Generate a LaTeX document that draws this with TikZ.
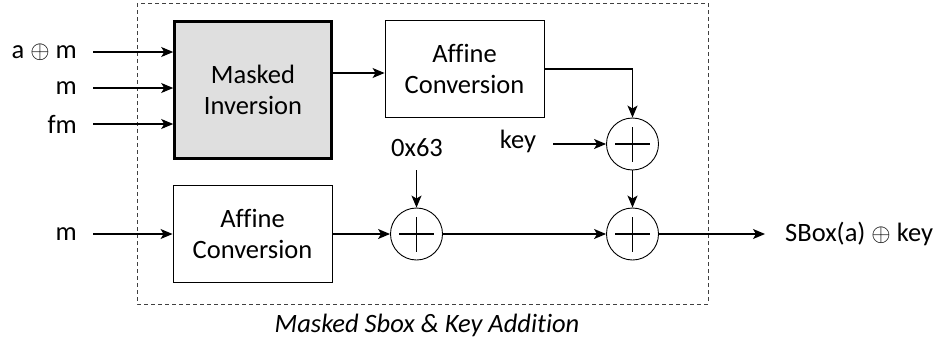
\documentclass[tikz,border=0pt]{standalone}
\usepackage{fontspec}
\setmainfont[Ligatures=NoCommon]{Carlito}
\usetikzlibrary{arrows.meta,calc}
\tikzset{
  blockbox/.style={draw, line width=0.9pt, minimum width=159pt, minimum height=97pt, align=center, inner sep=0pt},
  invbox/.style={blockbox, line width=2.6pt, minimum width=157pt, minimum height=137pt, fill=gray!25},
  xorop/.style={draw, circle, line width=0.9pt, minimum size=52pt, inner sep=0pt,
    path picture={\draw[line width=1.3pt] ([xshift=-17.5pt]path picture bounding box.center) -- ([xshift=17.5pt]path picture bounding box.center)
      ([yshift=-17.5pt]path picture bounding box.center) -- ([yshift=17.5pt]path picture bounding box.center);}},
  flow/.style={line width=1.2pt, -{Stealth[length=12pt, width=10pt, inset=3pt]}},
  lbl/.style={inner sep=0pt}
}
\begin{document}
\begin{tikzpicture}[x=1pt, y=-1pt, font=\fontsize{26.5}{31}\selectfont]
  \useasboundingbox (0,0) rectangle (939,343);

  % enclosing dashed frame and its caption
  \draw[dashed, dash pattern=on 4pt off 3pt, line width=0.9pt, black!75] (137,3) rectangle (708,304);
  \node[lbl, font=\fontsize{26.5}{31}\selectfont\itshape] (cap) at (427,325) {Masked Sbox \& Key Addition};

  % blocks
  \node[invbox] (inv) at (253,90) {Masked\\Inversion};
  \node[blockbox] (aff1) at (464.5,69) {Affine\\Conversion};
  \node[blockbox] (aff2) at (252.5,233.5) {Affine\\Conversion};

  % XOR operators
  \node[xorop] (x1) at (632.5,144) {};
  \node[xorop] (x2) at (632.5,234) {};
  \node[xorop] (x0) at (416.5,234) {};

  % inputs
  \node[lbl, anchor=east] (la) at (77,52) {a $\oplus$ m};
  \node[lbl, anchor=east] (lm) at (77,88) {m};
  \node[lbl, anchor=east] (lf) at (77,124) {fm};
  \node[lbl, anchor=east] (lm2) at (77,234) {m};
  \coordinate (ia) at (93,52);
  \coordinate (im) at (93,88);
  \coordinate (if) at (93,124);
  \coordinate (im2) at (93,234);
  \draw[flow] (ia) -- (inv.west |- ia);
  \draw[flow] (im) -- (inv.west |- im);
  \draw[flow] (if) -- (inv.west |- if);
  \draw[flow] (im2) -- (aff2.west |- im2);

  % key and constant
  \node[lbl] (lkey) at (518,141) {key};
  \coordinate (ikey) at (553,144);
  \draw[flow] (ikey) -- (x1.west);
  \node[lbl] (lc) at (417,148) {0x63};
  \coordinate (ic) at (416.5,170);
  \draw[flow] (ic) -- (x0.north);

  % internal data path
  \coordinate (invout) at (332,73);
  \draw[flow] (invout) -- (aff1.west |- invout);
  \draw[flow] (aff1.east) -| (x1.north);
  \draw[flow] (aff2.east |- x0) -- (x0.west);
  \draw[flow] (x0.east) -- (x2.west);
  \draw[flow] (x1.south) -- (x2.north);

  % output
  \coordinate (out) at (765,234);
  \draw[flow] (x2.east) -- (out);
  \node[lbl, anchor=west] (lout) at (785,234) {SBox(a) $\oplus$ key};
\end{tikzpicture}
\end{document}
